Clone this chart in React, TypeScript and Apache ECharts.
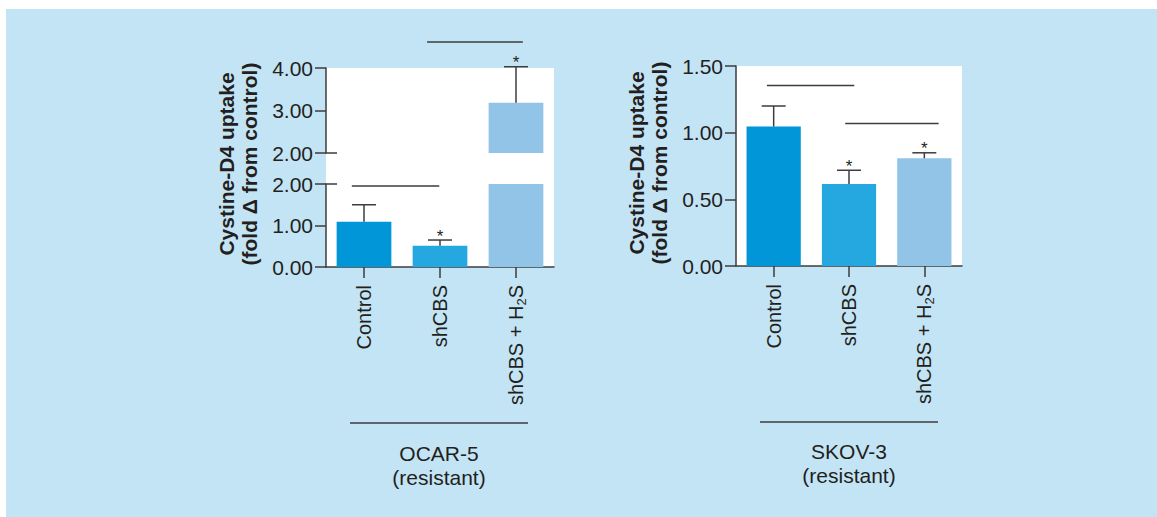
import React, { useEffect, useRef } from 'react';
import * as echarts from 'echarts';

const categories = ['Control', 'shCBS', 'shCBS + H2S'];

// OCAR-5 (resistant) — broken axis: lower 0–2, upper 2–4
const ocarValues = [1.09, 0.51, 3.18];
const ocarErrTops = [1.5, 0.65, 4.03];
const ocarStars = [0, 1, 1];
// [anchorCategory, y, fromOffset, toOffset]
const ocarSigLower = [[0, 1.95, -0.16, 0.99]];
const ocarSigUpper = [[0, 4.61, 0.83, 2.09]];

// SKOV-3 (resistant)
const skovValues = [1.046, 0.615, 0.808];
const skovErrTops = [1.2, 0.718, 0.849];
const skovStars = [0, 1, 1];
const skovSig = [
  [0, 1.354, -0.09, 1.07],
  [0, 1.069, 0.95, 2.19],
];

const groupNames = ['OCAR-5\n(resistant)', 'SKOV-3\n(resistant)'];
const yName = 'Cystine-D4 uptake\n(fold \u0394 from control)';

const barColors = ['#0096d8', '#24a8df', '#92c4e8'];
const TEXT = '#231f20';
const AXIS = '#3d3d3d';
const BG = '#c3e4f5';
const FONT = '"Liberation Sans", Arial, Helvetica, sans-serif';

function errorBarRender(lo: number, hi: number) {
  return (params: any, api: any) => {
    const idx = api.value(0);
    const v = api.value(1);
    const top = api.value(2);
    if (v < lo || v > hi) return null;
    const base = api.coord([idx, v]);
    const tip = api.coord([idx, top]);
    const style = { stroke: AXIS, lineWidth: 1.5 };
    const children: any[] = [
      { type: 'line', shape: { x1: base[0], y1: base[1], x2: tip[0], y2: tip[1] }, style },
      { type: 'line', shape: { x1: tip[0] - 12, y1: tip[1], x2: tip[0] + 12, y2: tip[1] }, style },
    ];
    if (api.value(3)) {
      children.push({
        type: 'text',
        x: tip[0],
        y: tip[1] - 4,
        style: { text: '*', fontSize: 17, fontFamily: FONT, fill: TEXT, align: 'center', verticalAlign: 'middle' },
      });
    }
    return { type: 'group', children };
  };
}

function sigRender(params: any, api: any) {
  const y = api.value(1);
  const a = api.coord([0, y]);
  const b = api.coord([1, y]);
  const band = b[0] - a[0];
  return {
    type: 'line',
    shape: { x1: a[0] + api.value(2) * band, y1: a[1], x2: a[0] + api.value(3) * band, y2: a[1] },
    style: { stroke: AXIS, lineWidth: 1.5 },
  };
}

const xLabelFormatter = (v: string) => {
  const parts = v.split('H2S');
  if (parts.length > 1) return '{t|' + parts[0] + 'H}{s|2}{t|S' + parts[1] + '}';
  return '{t|' + v + '}';
};

const xLabelRich = {
  t: { fontSize: 20, lineHeight: 24, color: TEXT, fontFamily: FONT },
  s: { fontSize: 13, lineHeight: 13, color: TEXT, fontFamily: FONT, verticalAlign: 'bottom' },
};

function xAxis(gridIndex: number, show: boolean) {
  return {
    type: 'category',
    gridIndex,
    data: categories,
    show,
    axisLine: { show: true, lineStyle: { color: AXIS, width: 1.5 } },
    axisTick: { show: true, alignWithLabel: true, length: 11, lineStyle: { color: AXIS, width: 1.5 } },
    axisLabel: { rotate: 90, margin: 18, formatter: xLabelFormatter, rich: xLabelRich },
  };
}

function yAxis(gridIndex: number, min: number, max: number, interval: number) {
  return {
    type: 'value',
    gridIndex,
    min,
    max,
    interval,
    axisLine: { show: true, lineStyle: { color: AXIS, width: 1.5 } },
    axisTick: { show: true, length: 11, lineStyle: { color: AXIS, width: 1.5 } },
    splitLine: { show: false },
    axisLabel: {
      margin: 13,
      fontSize: 21,
      color: TEXT,
      fontFamily: FONT,
      formatter: (v: number) => v.toFixed(2),
    },
  };
}

function breakAxis(gridIndex: number, min: number, max: number, interval: number) {
  return {
    type: 'value',
    gridIndex,
    min,
    max,
    interval,
    position: 'left',
    axisLine: { show: false },
    axisLabel: { show: false },
    splitLine: { show: false },
    axisTick: { show: true, inside: true, length: 11, customValues: [2], lineStyle: { color: AXIS, width: 1.5 } },
  };
}

export default function App() {
  const ref = useRef<HTMLDivElement>(null);

  useEffect(() => {
    if (!ref.current) return;
    const chart = echarts.init(ref.current, null, { renderer: 'svg' });

    const errData = (vals: number[], tops: number[], stars: number[]) =>
      vals.map((v, i) => [i, v, tops[i], stars[i]]);

    const option: any = {
      animation: false,
      backgroundColor: '#ffffff',
      grid: [
        // OCAR-5 lower (0–2)
        { left: 326, top: 184, width: 228, height: 83, show: true, backgroundColor: '#ffffff', borderWidth: 0, outerBoundsMode: 'none' },
        // OCAR-5 upper (2–4)
        { left: 326, top: 68, width: 228, height: 85, show: true, backgroundColor: '#ffffff', borderWidth: 0, outerBoundsMode: 'none' },
        // SKOV-3
        { left: 736, top: 66, width: 226, height: 200, show: true, backgroundColor: '#ffffff', borderWidth: 0, outerBoundsMode: 'none' },
      ],
      xAxis: [xAxis(0, true), xAxis(1, false), xAxis(2, true)],
      yAxis: [
        yAxis(0, 0, 2, 1),
        yAxis(1, 2, 4, 1),
        yAxis(2, 0, 1.5, 0.5),
        breakAxis(0, 0, 2, 1),
        breakAxis(1, 2, 4, 1),
      ],
      graphic: [
        { type: 'rect', z: -10, silent: true, shape: { x: 6, y: 9, width: 1151, height: 508 }, style: { fill: BG } },
        { type: 'rect', z: -5, silent: true, shape: { x: 326, y: 152, width: 228, height: 33 }, style: { fill: '#ffffff' } },
        // y-axis names
        {
          type: 'text', x: 238, y: 164, rotation: Math.PI / 2,
          style: { text: yName, fontSize: 21, lineHeight: 23, fontWeight: 'bold', fill: TEXT, fontFamily: FONT, align: 'center', verticalAlign: 'middle' },
        },
        {
          type: 'text', x: 648, y: 163, rotation: Math.PI / 2,
          style: { text: yName, fontSize: 21, lineHeight: 23, fontWeight: 'bold', fill: TEXT, fontFamily: FONT, align: 'center', verticalAlign: 'middle' },
        },
        // group labels
        { type: 'line', shape: { x1: 350, y1: 423, x2: 528, y2: 423 }, style: { stroke: AXIS, lineWidth: 1.5 } },
        { type: 'line', shape: { x1: 760, y1: 422, x2: 938, y2: 422 }, style: { stroke: AXIS, lineWidth: 1.5 } },
        {
          type: 'text', x: 439, y: 465,
          style: { text: groupNames[0], fontSize: 21, lineHeight: 24, fill: TEXT, fontFamily: FONT, align: 'center', verticalAlign: 'middle' },
        },
        {
          type: 'text', x: 849, y: 463,
          style: { text: groupNames[1], fontSize: 21, lineHeight: 24, fill: TEXT, fontFamily: FONT, align: 'center', verticalAlign: 'middle' },
        },
      ],
      series: [
        {
          type: 'bar', xAxisIndex: 0, yAxisIndex: 0, data: ocarValues, barCategoryGap: '28%', clip: true,
          itemStyle: { color: (p: any) => barColors[p.dataIndex] },
        },
        {
          type: 'bar', xAxisIndex: 1, yAxisIndex: 1, data: ocarValues, barCategoryGap: '28%', clip: true,
          itemStyle: { color: (p: any) => barColors[p.dataIndex] },
        },
        {
          type: 'bar', xAxisIndex: 2, yAxisIndex: 2, data: skovValues, barCategoryGap: '28%', clip: true,
          itemStyle: { color: (p: any) => barColors[p.dataIndex] },
        },
        {
          type: 'custom', xAxisIndex: 0, yAxisIndex: 0, z: 5, clip: false,
          renderItem: errorBarRender(0, 2), encode: { x: 0, y: 1 },
          data: errData(ocarValues, ocarErrTops, ocarStars),
        },
        {
          type: 'custom', xAxisIndex: 1, yAxisIndex: 1, z: 5, clip: false,
          renderItem: errorBarRender(2, 4), encode: { x: 0, y: 1 },
          data: errData(ocarValues, ocarErrTops, ocarStars),
        },
        {
          type: 'custom', xAxisIndex: 2, yAxisIndex: 2, z: 5, clip: false,
          renderItem: errorBarRender(0, 1.5), encode: { x: 0, y: 1 },
          data: errData(skovValues, skovErrTops, skovStars),
        },
        {
          type: 'custom', xAxisIndex: 0, yAxisIndex: 0, z: 5, clip: false,
          renderItem: sigRender, encode: { x: 0, y: 1 }, data: ocarSigLower,
        },
        {
          type: 'custom', xAxisIndex: 1, yAxisIndex: 1, z: 5, clip: false,
          renderItem: sigRender, encode: { x: 0, y: 1 }, data: ocarSigUpper,
        },
        {
          type: 'custom', xAxisIndex: 2, yAxisIndex: 2, z: 5, clip: false,
          renderItem: sigRender, encode: { x: 0, y: 1 }, data: skovSig,
        },
      ],
    };

    chart.setOption(option);
    return () => chart.dispose();
  }, []);

  return (
    <div
      ref={ref}
      style={{ position: 'absolute', left: 0, top: 0, width: 1157, height: 517 }}
    />
  );
}
